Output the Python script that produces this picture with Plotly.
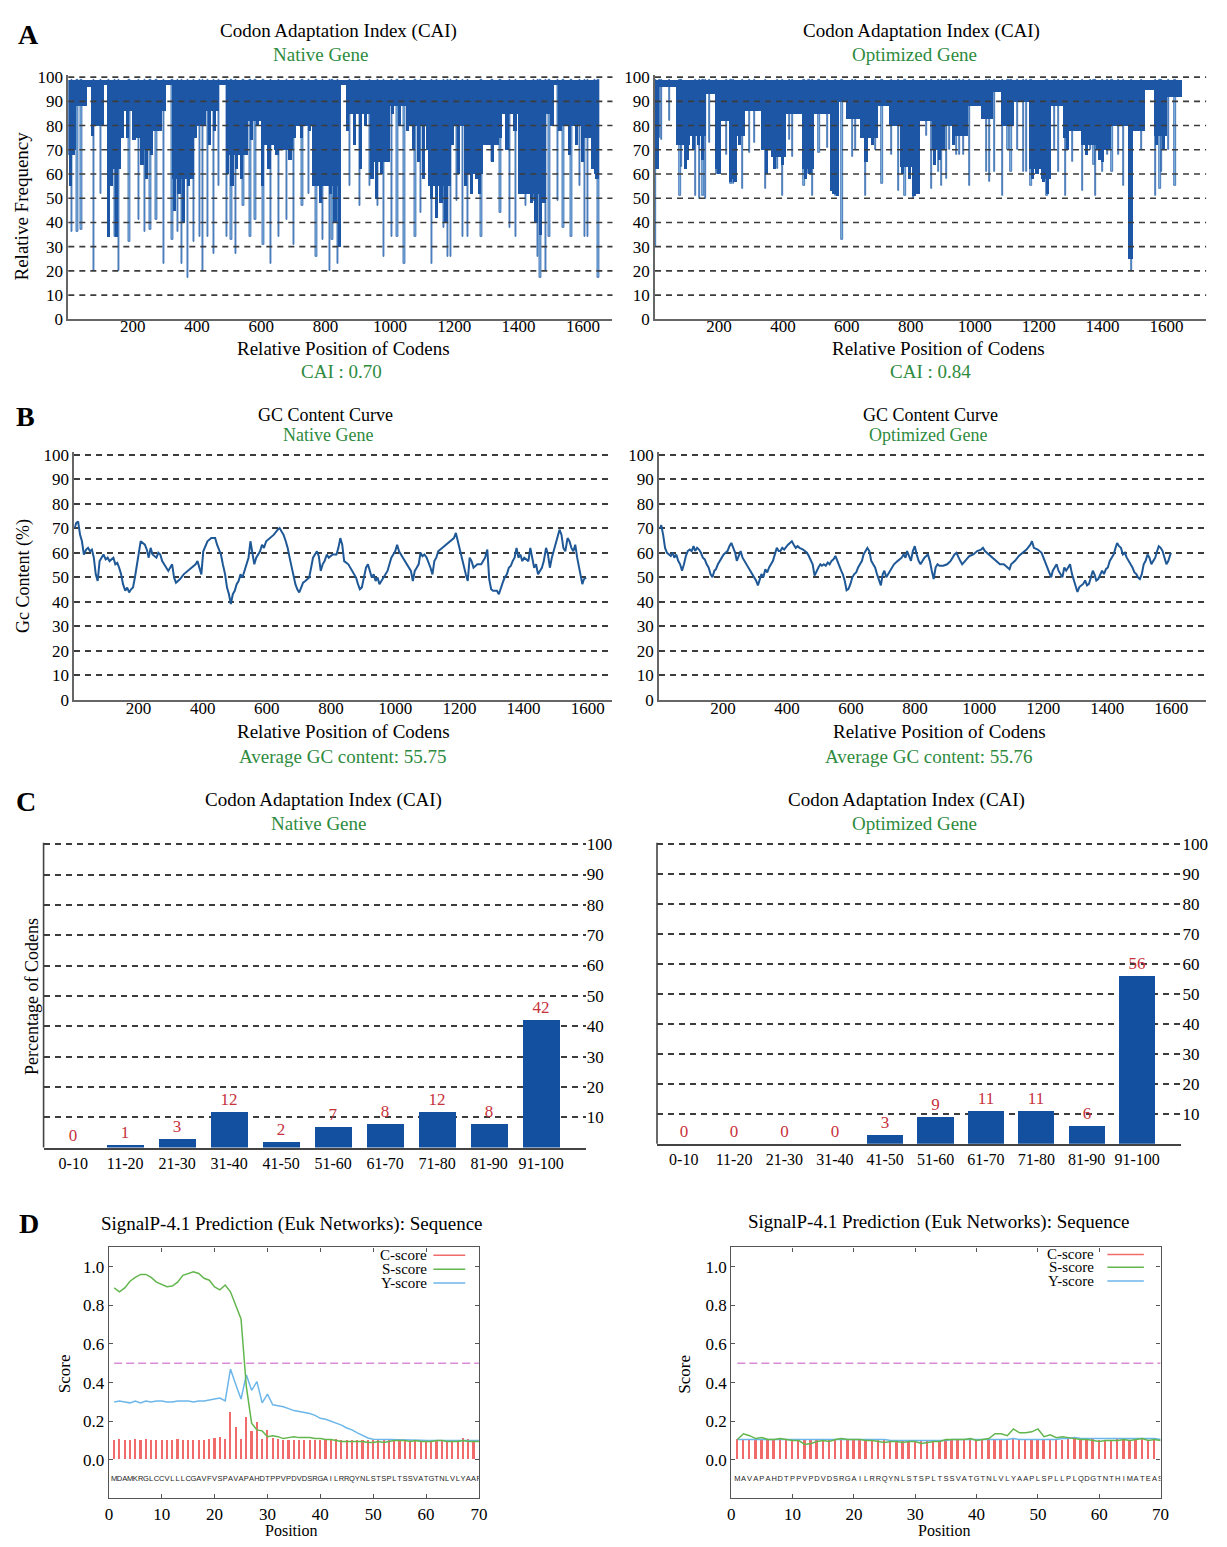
import plotly.graph_objects as go

W, H = 1227, 1547
SERIF = "Liberation Serif"
SANS = "Liberation Sans"
GREEN = "#2e8b3e"
RED_TXT = "#c8323c"
DARK = "#1d56a4"
LIGHT = "#86b8e2"
GC_LINE = "#1f5896"
BAR_C = "#13509f"

# ---------------- Panel A : CAI per codon (dense regions + individual dips) -------------
nat_blk_start = [0, 22, 60, 75, 112, 125, 165, 200, 232, 262, 292, 305, 322, 392, 420, 470, 490, 560, 600, 640,
                 700, 760, 850, 870, 940, 1000, 1060, 1120, 1190, 1230, 1290, 1340, 1400, 1480, 1510, 1530, 1600, 1635]
nat_blk_end = [22, 60, 75, 112, 125, 165, 200, 232, 262, 292, 305, 322, 392, 420, 470, 490, 560, 600, 640, 700,
               760, 850, 870, 940, 1000, 1060, 1120, 1190, 1230, 1290, 1340, 1400, 1480, 1510, 1530, 1600, 1635, 1650]
nat_blk_low = [68, 88, 96, 80, 97, 62, 86, 75, 70, 78, 86, 97, 58, 80, 86, 97, 68, 82, 72, 70,
               80, 55, 97, 85, 65, 88, 80, 55, 80, 60, 72, 85, 52, 85, 97, 80, 75, 60]
nat_dark_pos = [8, 20, 75, 90, 127, 135, 151, 170, 185, 205, 230, 245, 260, 285, 330, 345, 360, 375, 385, 395,
                425, 440, 455, 495, 510, 525, 540, 570, 590, 605, 625, 650, 665, 690, 705, 725, 750, 770, 785, 800,
                815, 830, 845, 870, 890, 910, 925, 945, 960, 975, 990, 1010, 1030, 1055, 1075, 1090, 1105, 1118, 1130, 1145,
                1160, 1175, 1195, 1215, 1235, 1255, 1270, 1280, 1300, 1320, 1345, 1365, 1390, 1410, 1425, 1440, 1455, 1470, 1480, 1505,
                1530, 1560, 1580, 1600, 1630, 1645]
nat_dark_low = [55, 70, 76, 80, 34, 55, 34, 75, 75, 74, 64, 58, 68, 84, 45, 52, 40, 55, 62, 75,
                80, 72, 78, 60, 55, 62, 58, 74, 80, 55, 62, 68, 72, 66, 75, 75, 78, 55, 48, 58,
                52, 40, 30, 78, 72, 62, 80, 58, 50, 60, 65, 85, 80, 78, 70, 65, 58, 70, 50, 42,
                48, 40, 72, 60, 55, 52, 58, 52, 72, 65, 75, 70, 78, 62, 55, 48, 40, 35, 48, 80,
                78, 68, 72, 65, 62, 58]
nat_spk_pos = [10, 28, 40, 80, 100, 127, 145, 157, 190, 219, 237, 255, 274, 296, 323, 341, 354, 372, 391, 409,
               419, 434, 452, 468, 493, 507, 520, 544, 566, 581, 606, 630, 655, 679, 701, 728, 747, 771, 792, 812,
               821, 837, 876, 907, 937, 962, 980, 1005, 1023, 1045, 1079, 1097, 1131, 1146, 1168, 1181, 1189, 1208, 1226, 1242,
               1284, 1318, 1343, 1373, 1392, 1423, 1447, 1459, 1468, 1484, 1496, 1521, 1539, 1564, 1591, 1607, 1615, 1638, 1648]
nat_spk_low = [36, 36, 37, 20, 52, 34, 34, 20, 32, 41, 36, 37, 41, 23, 33, 36, 23, 17, 32, 34,
               20, 34, 27, 55, 34, 33, 27, 47, 34, 41, 31, 23, 34, 41, 31, 47, 52, 26, 33, 20,
               33, 23, 55, 47, 55, 47, 26, 34, 34, 23, 34, 44, 23, 56, 38, 26, 26, 49, 34, 34,
               34, 65, 44, 38, 34, 47, 49, 26, 17, 20, 34, 49, 38, 34, 55, 34, 34, 71, 17]

opt_blk_start = [0, 5, 67, 109, 161, 187, 197, 233, 252, 280, 332, 363, 409, 461, 497, 549, 575, 596, 642, 699,
                 731, 767, 808, 829, 866, 907, 938, 979, 1021, 1057, 1083, 1124, 1171, 1207, 1238, 1275, 1295, 1332, 1378, 1425,
                 1472, 1480, 1496, 1533, 1560, 1601]
opt_blk_end = [5, 67, 109, 161, 187, 197, 233, 252, 280, 332, 363, 409, 461, 497, 549, 575, 596, 642, 699, 731,
               767, 808, 829, 866, 907, 938, 979, 1021, 1057, 1083, 1124, 1171, 1207, 1238, 1275, 1295, 1332, 1378, 1425, 1472,
               1480, 1496, 1533, 1560, 1601, 1648]
opt_blk_low = [62, 96, 72, 76, 93, 62, 82, 58, 76, 86, 70, 67, 85, 62, 85, 53, 90, 83, 75, 88,
               80, 63, 52, 82, 70, 80, 76, 88, 83, 94, 80, 90, 62, 58, 88, 75, 78, 72, 70, 80,
               80, 25, 78, 95, 76, 92]
opt_dark_pos = [8, 95, 100, 120, 135, 148, 200, 235, 250, 265, 350, 375, 400, 470, 485, 560, 570, 660, 680, 775,
                795, 810, 820, 875, 890, 935, 1180, 1195, 1215, 1228, 1290, 1350, 1390, 1400, 1488, 1570, 1590]
opt_dark_low = [62, 62, 66, 70, 72, 66, 60, 57, 57, 72, 60, 62, 64, 58, 60, 52, 51, 65, 72, 60,
                58, 51, 52, 64, 66, 72, 58, 60, 57, 52, 70, 68, 66, 65, 25, 72, 70]
opt_spk_pos = [2, 13, 21, 45, 78, 83, 127, 140, 150, 159, 171, 192, 223, 238, 246, 273, 295, 311, 345, 383,
               399, 420, 430, 466, 482, 492, 513, 539, 565, 585, 617, 627, 658, 689, 710, 739, 762, 782, 808, 850,
               865, 886, 896, 912, 922, 943, 953, 964, 984, 1036, 1047, 1062, 1086, 1104, 1114, 1135, 1152, 1163, 1176, 1226,
               1249, 1262, 1285, 1306, 1337, 1363, 1373, 1378, 1399, 1415, 1430, 1451, 1466, 1490, 1523, 1565, 1580, 1585, 1606, 1627]
opt_spk_low = [30, 75, 74, 82, 51, 63, 51, 50, 51, 50, 73, 60, 68, 56, 56, 54, 69, 73, 54, 62,
               51, 74, 67, 55, 60, 51, 69, 71, 51, 33, 67, 70, 51, 70, 56, 68, 53, 51, 50, 76,
               54, 61, 55, 58, 70, 68, 68, 68, 55, 61, 57, 61, 51, 70, 61, 70, 61, 61, 55, 51,
               70, 61, 51, 65, 53, 70, 64, 51, 61, 68, 61, 68, 55, 20, 70, 51, 54, 61, 70, 55]

# ---------------- Panel B : GC content curves -------------
gc_nat_pos = [1, 6, 12, 18, 24, 30, 37, 43, 49, 55, 61, 67, 73, 79, 85, 91, 98, 104, 110, 122,
              128, 134, 140, 146, 152, 159, 165, 171, 177, 183, 189, 195, 201, 207, 220, 226, 232, 238, 244, 256,
              262, 268, 274, 280, 293, 305, 311, 317, 329, 341, 354, 366, 378, 384, 390, 396, 402, 409, 415, 427,
              439, 445, 451, 457, 463, 470, 476, 482, 488, 494, 500, 506, 512, 518, 524, 530, 537, 543, 549, 555,
              561, 567, 573, 579, 585, 591, 598, 604, 610, 622, 634, 640, 646, 652, 659, 665, 671, 677, 683, 689,
              695, 701, 707, 713, 720, 732, 738, 744, 750, 756, 762, 768, 774, 780, 787, 793, 805, 817, 823, 829,
              835, 841, 854, 866, 878, 884, 890, 896, 902, 909, 915, 921, 927, 933, 939, 945, 951, 957, 963, 970,
              976, 982, 988, 994, 1000, 1006, 1012, 1024, 1037, 1049, 1055, 1061, 1067, 1073, 1079, 1085, 1091, 1098, 1110, 1116,
              1122, 1128, 1134, 1146, 1159, 1171, 1183, 1189, 1195, 1201, 1207, 1213, 1220, 1226, 1232, 1238, 1244, 1256, 1268, 1280,
              1287, 1293, 1299, 1305, 1317, 1323, 1329, 1335, 1341, 1348, 1354, 1360, 1366, 1372, 1378, 1384, 1390, 1396, 1402, 1415,
              1421, 1427, 1433, 1439, 1445, 1451, 1457, 1463, 1470, 1476, 1482, 1488, 1500, 1512, 1518, 1524, 1530, 1537, 1543, 1549,
              1555, 1561, 1567, 1573, 1579, 1583, 1588, 1595]
gc_nat_val = [70.1, 72.1, 72.8, 67.4, 64.7, 59.3, 61.3, 62.0, 60.6, 61.3, 58.0, 51.2, 48.5, 56.6, 58.0, 59.3, 57.3, 58.0, 56.6, 58.0,
              55.3, 55.9, 53.9, 51.2, 47.2, 44.5, 45.8, 43.8, 45.1, 45.8, 49.9, 55.3, 59.3, 64.7, 63.3, 61.3, 58.0, 62.0, 59.3, 58.0,
              60.0, 59.3, 56.6, 55.3, 52.6, 55.3, 49.9, 47.8, 49.2, 51.2, 52.6, 53.9, 55.3, 56.6, 53.9, 51.2, 60.6, 63.3, 64.7, 66.0,
              66.0, 63.3, 61.3, 59.3, 55.3, 51.2, 45.8, 43.1, 39.1, 43.1, 44.5, 47.2, 48.5, 51.2, 49.9, 52.6, 55.3, 58.0, 64.7, 59.3,
              55.3, 58.0, 59.3, 60.6, 63.3, 62.0, 64.7, 65.4, 66.0, 67.4, 69.4, 70.1, 68.7, 67.4, 64.7, 62.0, 58.0, 53.9, 49.9, 47.2,
              45.1, 43.8, 45.8, 47.8, 48.5, 49.9, 53.9, 58.0, 59.3, 60.6, 58.6, 52.6, 55.3, 56.6, 59.3, 58.0, 59.3, 59.3, 62.0, 66.0,
              63.3, 56.6, 55.3, 52.6, 49.9, 47.2, 45.1, 45.8, 49.9, 53.9, 55.3, 52.6, 49.9, 51.2, 48.5, 49.9, 47.2, 48.5, 49.9, 51.2,
              52.6, 55.3, 58.0, 59.3, 60.6, 63.3, 60.6, 58.0, 55.3, 52.6, 48.5, 52.6, 53.9, 55.3, 60.0, 58.6, 59.3, 58.0, 53.9, 51.2,
              56.6, 58.0, 60.6, 62.0, 63.3, 64.7, 66.0, 68.1, 64.7, 62.0, 58.0, 53.9, 51.2, 48.5, 58.0, 56.6, 53.9, 55.3, 55.3, 58.0,
              61.3, 49.2, 45.1, 44.5, 44.5, 43.1, 45.8, 47.8, 49.9, 51.2, 53.9, 54.6, 56.6, 58.0, 62.0, 58.0, 59.3, 56.6, 58.0, 56.6,
              62.0, 58.0, 53.9, 55.3, 51.2, 52.6, 53.9, 56.6, 62.0, 59.3, 53.9, 58.0, 63.3, 69.4, 67.4, 62.0, 60.6, 66.0, 64.7, 62.0,
              60.6, 63.3, 58.0, 53.9, 51.2, 47.2, 49.2, 49.9]

gc_opt_pos = [4, 7, 13, 19, 25, 31, 37, 43, 48, 54, 60, 66, 72, 78, 84, 90, 96, 102, 108, 113,
              119, 125, 131, 137, 143, 149, 155, 161, 167, 173, 178, 184, 190, 196, 202, 208, 214, 220, 226, 232,
              238, 243, 249, 255, 261, 267, 273, 279, 285, 291, 297, 303, 309, 314, 320, 326, 332, 338, 344, 356,
              362, 368, 374, 379, 385, 391, 403, 415, 421, 427, 433, 439, 450, 456, 462, 468, 474, 480, 486, 492,
              498, 504, 509, 515, 521, 527, 533, 539, 545, 551, 557, 563, 569, 574, 580, 586, 592, 598, 604, 610,
              616, 622, 628, 634, 639, 645, 651, 657, 663, 669, 675, 681, 687, 693, 699, 704, 710, 716, 722, 728,
              734, 746, 758, 764, 770, 775, 781, 787, 793, 799, 805, 811, 817, 829, 840, 846, 852, 858, 864, 870,
              876, 888, 900, 911, 917, 923, 929, 935, 941, 947, 959, 970, 982, 994, 1006, 1012, 1018, 1024, 1030, 1041,
              1053, 1065, 1077, 1089, 1095, 1100, 1112, 1124, 1136, 1148, 1160, 1165, 1171, 1183, 1195, 1201, 1207, 1213, 1219, 1225,
              1230, 1236, 1242, 1248, 1254, 1260, 1266, 1272, 1278, 1284, 1290, 1296, 1301, 1307, 1313, 1319, 1325, 1331, 1337, 1343,
              1349, 1355, 1360, 1366, 1372, 1378, 1384, 1390, 1396, 1402, 1408, 1414, 1420, 1426, 1431, 1437, 1443, 1449, 1455, 1461,
              1467, 1473, 1479, 1485, 1491, 1496, 1502, 1508, 1514, 1520, 1526, 1532, 1538, 1544, 1550, 1556, 1561, 1567, 1573, 1579,
              1585, 1591, 1597, 1599]
gc_opt_val = [70.0, 71.3, 67.3, 62.0, 60.0, 59.3, 58.7, 60.0, 58.0, 59.3, 56.7, 55.3, 52.7, 55.3, 58.7, 60.7, 61.3, 60.7, 62.7, 60.7,
              62.0, 61.3, 60.0, 58.0, 57.3, 55.3, 54.0, 51.3, 50.0, 52.7, 53.3, 55.3, 56.7, 58.0, 59.3, 60.0, 60.7, 62.7, 64.0, 62.0,
              60.0, 56.7, 58.7, 60.7, 58.0, 56.7, 55.3, 54.0, 52.7, 51.3, 50.0, 48.7, 46.7, 48.7, 51.3, 50.0, 53.3, 52.0, 54.0, 56.7,
              59.3, 62.0, 60.7, 60.7, 62.0, 61.3, 63.3, 64.7, 63.3, 62.0, 62.7, 62.0, 61.3, 60.7, 60.0, 58.7, 57.3, 55.3, 50.7, 52.7,
              54.0, 55.3, 54.7, 55.3, 54.7, 56.0, 55.3, 56.7, 57.3, 58.7, 56.7, 54.0, 52.7, 51.3, 48.7, 44.7, 45.3, 47.3, 50.0, 51.3,
              52.0, 54.0, 55.3, 56.7, 59.3, 60.7, 62.0, 60.7, 56.7, 55.3, 54.0, 51.3, 48.7, 46.7, 51.3, 52.7, 50.0, 51.3, 52.7, 54.0,
              55.3, 56.7, 58.0, 59.3, 58.0, 60.7, 58.7, 56.7, 60.7, 62.7, 59.3, 56.7, 55.3, 58.0, 59.3, 56.7, 52.7, 49.3, 54.0, 55.3,
              54.7, 54.7, 55.3, 56.7, 58.0, 59.3, 60.0, 58.0, 56.7, 55.3, 57.3, 58.7, 59.3, 60.7, 61.3, 62.0, 60.7, 60.0, 59.3, 58.0,
              56.7, 55.3, 55.3, 54.0, 53.3, 55.3, 56.7, 58.7, 60.0, 61.3, 63.3, 64.7, 62.0, 61.3, 60.0, 58.0, 56.7, 54.7, 52.0, 50.0,
              52.7, 54.0, 55.3, 52.7, 51.3, 50.0, 54.0, 52.7, 54.0, 55.3, 51.3, 48.7, 46.0, 44.0, 46.0, 46.7, 47.3, 48.7, 46.7, 47.3,
              50.0, 52.7, 51.3, 48.7, 49.3, 51.3, 52.7, 51.3, 53.3, 54.0, 56.7, 58.0, 59.3, 62.0, 64.0, 62.7, 62.0, 59.3, 60.0, 58.0,
              56.7, 55.3, 54.0, 52.0, 51.3, 50.0, 49.3, 51.3, 55.3, 56.7, 59.3, 58.0, 55.3, 56.7, 58.0, 60.7, 62.7, 62.0, 60.7, 58.0,
              55.3, 56.7, 59.3, 60.0]
assert len(gc_nat_pos) == len(gc_nat_val) and len(gc_opt_pos) == len(gc_opt_val)
assert len(nat_dark_pos) == len(nat_dark_low) and len(opt_dark_pos) == len(opt_dark_low)

# ---------------- Panel C : codon distribution -------------
cai_classes = ["0-10", "11-20", "21-30", "31-40", "41-50", "51-60", "61-70", "71-80", "81-90", "91-100"]
cai_native_pct = [0, 1, 3, 12, 2, 7, 8, 12, 8, 42]
cai_optim_pct = [0, 0, 0, 0, 3, 9, 11, 11, 6, 56]

# ---------------- Panel D : SignalP -------------
seq_native = "MDAMKRGLCCVLLLCGAVFVSPAVAPAHDTPPVPDVDSRGAILRRQYNLSTSPLTSSVATGTNLVLYAAP"
seq_optim = "MAVAPAHDTPPVPDVDSRGAILRRQYNLSTSPLTSSVATGTNLVLYAAPLSPLLPLQDGTNTHIMATEAS"
sig_pos = list(range(1, 71))
nat_cscore = [0.10, 0.105, 0.10, 0.10, 0.105, 0.10, 0.105, 0.10, 0.10, 0.10,
              0.10, 0.10, 0.105, 0.10, 0.10, 0.10, 0.10, 0.10, 0.105, 0.11,
              0.115, 0.105, 0.245, 0.17, 0.105, 0.22, 0.145, 0.195, 0.105, 0.15,
              0.11, 0.105, 0.10, 0.10, 0.10, 0.10, 0.10, 0.10, 0.10, 0.10,
              0.10, 0.10, 0.105, 0.10, 0.10, 0.10, 0.10, 0.10, 0.10, 0.10,
              0.10, 0.10, 0.10, 0.10, 0.10, 0.10, 0.10, 0.10, 0.10, 0.10,
              0.10, 0.10, 0.10, 0.10, 0.10, 0.10, 0.11, 0.105, 0.10]
nat_sscore = [0.89, 0.87, 0.89, 0.925, 0.945, 0.96, 0.96, 0.945, 0.92, 0.91,
              0.896, 0.90, 0.92, 0.955, 0.964, 0.974, 0.965, 0.94, 0.93, 0.895,
              0.88, 0.905, 0.87, 0.80, 0.73, 0.38, 0.19, 0.155, 0.15, 0.12,
              0.125, 0.12, 0.11, 0.115, 0.12, 0.115, 0.115, 0.115, 0.11, 0.11,
              0.105, 0.105, 0.10, 0.095, 0.095, 0.095, 0.095, 0.095, 0.09, 0.09,
              0.095, 0.09, 0.095, 0.10, 0.10, 0.10, 0.095, 0.10, 0.095, 0.095,
              0.095, 0.10, 0.10, 0.095, 0.095, 0.095, 0.10, 0.095, 0.095, 0.095]
nat_yscore = [0.30, 0.305, 0.30, 0.295, 0.305, 0.295, 0.305, 0.30, 0.305, 0.305,
              0.30, 0.30, 0.305, 0.305, 0.305, 0.30, 0.305, 0.305, 0.31, 0.315,
              0.32, 0.305, 0.47, 0.39, 0.315, 0.44, 0.36, 0.405, 0.295, 0.34,
              0.285, 0.28, 0.275, 0.265, 0.255, 0.25, 0.245, 0.24, 0.23, 0.215,
              0.21, 0.20, 0.19, 0.18, 0.165, 0.155, 0.14, 0.125, 0.113, 0.107,
              0.105, 0.105, 0.105, 0.105, 0.103, 0.103, 0.103, 0.102, 0.102, 0.10,
              0.10, 0.10, 0.10, 0.10, 0.10, 0.10, 0.10, 0.10, 0.10, 0.10]
opt_cscore = [0.105, 0.105, 0.10, 0.10, 0.10, 0.10, 0.105, 0.105, 0.10, 0.10,
              0.10, 0.10, 0.10, 0.10, 0.10, 0.10, 0.105, 0.105, 0.10, 0.10,
              0.10, 0.10, 0.10, 0.10, 0.10, 0.10, 0.10, 0.10, 0.10, 0.10,
              0.10, 0.095, 0.10, 0.10, 0.10, 0.10, 0.10, 0.10, 0.10, 0.10,
              0.105, 0.11, 0.10, 0.10, 0.10, 0.11, 0.105, 0.105, 0.105, 0.105,
              0.105, 0.105, 0.10, 0.10, 0.11, 0.105, 0.105, 0.105, 0.105, 0.10,
              0.10, 0.10, 0.105, 0.105, 0.10, 0.105, 0.105, 0.10, 0.105]
opt_sscore = [0.105, 0.135, 0.125, 0.11, 0.115, 0.105, 0.105, 0.11, 0.105, 0.10,
              0.10, 0.08, 0.085, 0.095, 0.10, 0.095, 0.105, 0.11, 0.105, 0.105,
              0.105, 0.10, 0.10, 0.095, 0.09, 0.095, 0.095, 0.09, 0.095, 0.095,
              0.085, 0.09, 0.095, 0.095, 0.105, 0.105, 0.105, 0.105, 0.11, 0.10,
              0.105, 0.11, 0.135, 0.135, 0.125, 0.16, 0.14, 0.14, 0.145, 0.16,
              0.12, 0.13, 0.115, 0.12, 0.115, 0.11, 0.105, 0.105, 0.10, 0.095,
              0.10, 0.10, 0.10, 0.105, 0.10, 0.105, 0.11, 0.10, 0.105, 0.10]
opt_yscore = [0.105, 0.105, 0.105, 0.105, 0.105, 0.105, 0.105, 0.105, 0.105, 0.105,
              0.105, 0.105, 0.105, 0.105, 0.105, 0.105, 0.105, 0.105, 0.105, 0.105,
              0.105, 0.105, 0.105, 0.105, 0.105, 0.10, 0.10, 0.10, 0.10, 0.10,
              0.10, 0.10, 0.10, 0.10, 0.10, 0.105, 0.105, 0.105, 0.105, 0.105,
              0.105, 0.105, 0.105, 0.105, 0.105, 0.11, 0.105, 0.105, 0.105, 0.105,
              0.105, 0.105, 0.105, 0.11, 0.11, 0.115, 0.11, 0.11, 0.11, 0.11,
              0.11, 0.11, 0.11, 0.11, 0.11, 0.11, 0.11, 0.11, 0.11, 0.105]
signal_cutoff = 0.5


def dx(a, b):
    return [a / W, b / W]


def dy(top, bot):
    return [1 - bot / H, 1 - top / H]


fig = go.Figure()


def add_cai(ax, blk_s, blk_e, blk_low, dark_pos, dark_low, spk_pos, spk_low):
    xa, ya = ax
    fig.add_trace(go.Bar(x=spk_pos, y=[99 - v for v in spk_low], base=spk_low, width=4,
                         marker=dict(color=LIGHT, line=dict(color=DARK, width=0.7)),
                         xaxis=xa, yaxis=ya, hoverinfo="skip"))
    fig.add_trace(go.Bar(x=[(s + e) / 2 for s, e in zip(blk_s, blk_e)],
                         y=[99 - v for v in blk_low], base=blk_low,
                         width=[e - s for s, e in zip(blk_s, blk_e)],
                         marker=dict(color=DARK, line=dict(width=0)),
                         xaxis=xa, yaxis=ya, hoverinfo="skip"))
    fig.add_trace(go.Bar(x=dark_pos, y=[99 - v for v in dark_low], base=dark_low, width=10,
                         marker=dict(color=DARK, line=dict(width=0)),
                         xaxis=xa, yaxis=ya, hoverinfo="skip"))


add_cai(("x", "y"), nat_blk_start, nat_blk_end, nat_blk_low, nat_dark_pos, nat_dark_low, nat_spk_pos, nat_spk_low)
add_cai(("x2", "y2"), opt_blk_start, opt_blk_end, opt_blk_low, opt_dark_pos, opt_dark_low, opt_spk_pos, opt_spk_low)

fig.add_trace(go.Scatter(x=gc_nat_pos, y=gc_nat_val, mode="lines", line=dict(color=GC_LINE, width=2),
                         xaxis="x3", yaxis="y3"))
fig.add_trace(go.Scatter(x=gc_opt_pos, y=gc_opt_val, mode="lines", line=dict(color=GC_LINE, width=2),
                         xaxis="x4", yaxis="y4"))

for pct, xa, ya in [(cai_native_pct, "x5", "y5"), (cai_optim_pct, "x6", "y6")]:
    fig.add_trace(go.Bar(x=list(range(len(cai_classes))), y=pct, width=0.72,
                         marker=dict(color=BAR_C, line=dict(width=0)),
                         text=[str(v) for v in pct], textposition="outside", cliponaxis=False,
                         constraintext="none",
                         textfont=dict(family=SERIF, size=17, color=RED_TXT),
                         xaxis=xa, yaxis=ya))


def add_signal(xa, ya, cs, ss, ys, seq):
    fig.add_trace(go.Bar(x=sig_pos[:len(cs)], y=cs, width=0.32, marker=dict(color="#f26b6b", line=dict(width=0)),
                         xaxis=xa, yaxis=ya))
    fig.add_trace(go.Scatter(x=[sig_pos[0], sig_pos[-1]], y=[signal_cutoff, signal_cutoff], mode="lines",
                             line=dict(color="#d98bd6", width=1.6, dash="8px,4px"), xaxis=xa, yaxis=ya))
    fig.add_trace(go.Scatter(x=sig_pos, y=ys, mode="lines", line=dict(color="#6cb6ea", width=1.5),
                             xaxis=xa, yaxis=ya))
    fig.add_trace(go.Scatter(x=sig_pos, y=ss, mode="lines", line=dict(color="#63b64e", width=1.5),
                             xaxis=xa, yaxis=ya))
    fig.add_trace(go.Scatter(x=sig_pos, y=[-0.1] * len(seq), text=list(seq), mode="text",
                             textfont=dict(family=SANS, size=7.5, color="#222"), xaxis=xa, yaxis=ya))


add_signal("x7", "y7", nat_cscore, nat_sscore, nat_yscore, seq_native)
add_signal("x8", "y8", opt_cscore, opt_sscore, opt_yscore, seq_optim)

TICKF = dict(family=SERIF, size=17, color="black")
GRID = dict(showgrid=True, gridcolor="#3c3c3c", gridwidth=1.6, griddash="6px,5px")


def pos_x(dom, rng, standoff):
    return dict(domain=dom, range=rng, tickvals=[200, 400, 600, 800, 1000, 1200, 1400, 1600],
                showgrid=False, zeroline=False, ticklabelstandoff=standoff,
                showline=True, linecolor="#666", linewidth=1.6, ticks="", tickfont=TICKF, fixedrange=True)


def pct_y(dom, rng):
    return dict(domain=dom, range=rng, tickvals=list(range(0, 101, 10)), zeroline=False,
                showline=True, linecolor="#666", linewidth=1.6, ticks="", tickfont=TICKF, fixedrange=True,
                showgrid=False)


layout = dict(width=W, height=H, margin=dict(l=0, r=0, t=0, b=0), showlegend=False,
              paper_bgcolor="white", plot_bgcolor="white", barmode="overlay", bargap=0,
              font=dict(family=SERIF, color="black"))

# A
layout["xaxis"] = dict(pos_x(dx(65, 615), [0, 1692], -10), anchor="y")
layout["yaxis"] = dict(pct_y(dy(67.5, 315), [0, 101]), anchor="x")
layout["xaxis2"] = dict(pos_x(dx(658, 1215), [0, 1724], -10), anchor="y2")
layout["yaxis2"] = dict(pct_y(dy(67.5, 315), [0, 101]), anchor="x2")
# B
layout["xaxis3"] = dict(pos_x(dx(71, 615), [0, 1677], -8), anchor="y3")
layout["yaxis3"] = dict(pct_y(dy(449.5, 700), [0, 101]), anchor="x3", **GRID)
layout["xaxis4"] = dict(pos_x(dx(662, 1215), [0, 1709], -8), anchor="y4")
layout["yaxis4"] = dict(pct_y(dy(449.5, 700), [0, 101]), anchor="x4", **GRID)
# C
for i, (xdom, xr, ydom) in zip((5, 6), [(dx(40, 588), [-0.57, 9.86], dy(844.5, 1153)),
                                        (dx(660, 1190), [-0.53, 9.88], dy(844.5, 1149))]):
    layout[f"xaxis{i}"] = dict(domain=xdom, range=xr, anchor=f"y{i}", tickvals=list(range(10)),
                               ticktext=cai_classes, showline=True, linecolor="#444", linewidth=1.6,
                               showgrid=False, zeroline=False, ticks="",
                               tickfont=dict(family=SERIF, size=16, color="black"), fixedrange=True)
    layout[f"yaxis{i}"] = dict(domain=ydom, range=[0, 100.5], anchor=f"x{i}", side="right",
                               tickvals=list(range(10, 101, 10)), showline=False, zeroline=False, ticks="",
                               tickfont=TICKF, fixedrange=True, **GRID)
# D
for i, xdom in zip((7, 8), [dx(106, 480), dx(735, 1169)]):
    layout[f"xaxis{i}"] = dict(domain=xdom, range=[0, 70], anchor=f"y{i}", tickvals=list(range(0, 71, 10)),
                               showline=True, mirror="ticks", ticks="inside", ticklen=4, linecolor="#555",
                               tickcolor="#555", linewidth=1.3, showgrid=False, zeroline=False,
                               tickfont=TICKF, fixedrange=True)
    layout[f"yaxis{i}"] = dict(domain=dy(1254, 1508), range=[-0.2, 1.1], anchor=f"x{i}",
                               tickvals=[0, 0.2, 0.4, 0.6, 0.8, 1.0], tickformat=".1f",
                               showline=True, mirror="ticks", ticks="inside", ticklen=4, linecolor="#555",
                               tickcolor="#555", linewidth=1.3, showgrid=False, zeroline=False,
                               tickfont=TICKF, fixedrange=True)

fig.update_layout(**layout)

# gridlines drawn above the dense CAI marks (as in the original)
for xa, ya in [("x", "y"), ("x2", "y2")]:
    for v in range(10, 101, 10):
        fig.add_shape(type="line", xref=f"{xa} domain", x0=0, x1=1, yref=ya, y0=v, y1=v,
                      line=dict(color="#3c3c3c", width=1.6, dash="6px,5px"), layer="above")

# left axis line for panel C
for xa, ya in [("x5", "y5"), ("x6", "y6")]:
    fig.add_shape(type="line", xref=f"{xa} domain", x0=0, x1=0, yref=f"{ya} domain", y0=0, y1=1,
                  line=dict(color="#444", width=1.6))

# legends for panel D
leg = [("C-score", "#f26b6b"), ("S-score", "#63b64e"), ("Y-score", "#6cb6ea")]
for xa, ya, tx, lx0, lx1, ys in [("x7", "y7", 0.866, 0.877, 0.963, [0.969, 0.913, 0.858]),
                                 ("x8", "y8", 0.85, 0.876, 0.961, [0.972, 0.921, 0.866])]:
    for (name, col), yy in zip(leg, ys):
        fig.add_shape(type="line", xref=f"{xa} domain", yref=f"{ya} domain", x0=lx0, x1=lx1, y0=yy, y1=yy,
                      line=dict(color=col, width=1.5))
        fig.add_annotation(text=name, xref=f"{xa} domain", yref=f"{ya} domain", x=tx, y=yy,
                           xanchor="right", yanchor="middle", showarrow=False,
                           font=dict(family=SERIF, size=15, color="black"))


def ann(text, x, y, size=19, color="black", bold=False, angle=0):
    if bold:
        text = f"<b>{text}</b>"
    fig.add_annotation(text=text, x=x / W, y=1 - y / H,
                       xref="paper", yref="paper", showarrow=False,
                       xanchor="center", yanchor="middle", textangle=angle,
                       font=dict(family=SERIF, size=size, color=color))


# panel letters
ann("A", 25, 27, 28, bold=True)
ann("B", 22, 413, 28, bold=True)
ann("C", 22, 803, 28, bold=True)
ann("D", 25, 1230, 28, bold=True)

# A texts
ann("Codon Adaptation Index (CAI)", 338, 23)
ann("Native Gene", 320, 47, color=GREEN)
ann("Codon Adaptation Index (CAI)", 927, 23)
ann("Optimized Gene", 920, 47, color=GREEN)
ann("Relative Position of Codens", 343, 345)
ann("CAI : 0.70", 341, 368, color=GREEN)
ann("Relative Position of Codens", 945, 345)
ann("CAI : 0.84", 936, 368, color=GREEN)
ann("Relative Frequency", 18, 200, angle=-90)

# B texts
ann("GC Content Curve", 325, 412, 18)
ann("Native Gene", 327, 432, 18, color=GREEN)
ann("GC Content Curve", 936, 412, 18)
ann("Optimized Gene", 934, 432, 18, color=GREEN)
ann("Relative Position of Codens", 343, 732)
ann("Average GC content: 55.75", 343, 757, color=GREEN)
ann("Relative Position of Codens", 946, 732)
ann("Average GC content: 55.76", 935, 757, color=GREEN)
ann("Gc Content (%)", 20, 575, 18, angle=-90)

# C texts
ann("Codon Adaptation Index (CAI)", 323, 801)
ann("Native Gene", 318, 825, color=GREEN)
ann("Codon Adaptation Index (CAI)", 912, 801)
ann("Optimized Gene", 920, 825, color=GREEN)
ann("Percentage of Codens", 29, 1000, 18, angle=-90)

# D texts
ann("SignalP-4.1 Prediction (Euk Networks): Sequence", 291, 1230)
ann("SignalP-4.1 Prediction (Euk Networks): Sequence", 945, 1228)
ann("Position", 290, 1540, 16)
ann("Position", 950, 1540, 16)
ann("Score", 62, 1382, 17, angle=-90)
ann("Score", 688, 1382, 17, angle=-90)

fig.write_html("out.html", config={"displayModeBar": False},
               post_script="document.documentElement.style.overflow='hidden';"
                           "document.body.style.overflow='hidden';document.body.style.margin='0';")
